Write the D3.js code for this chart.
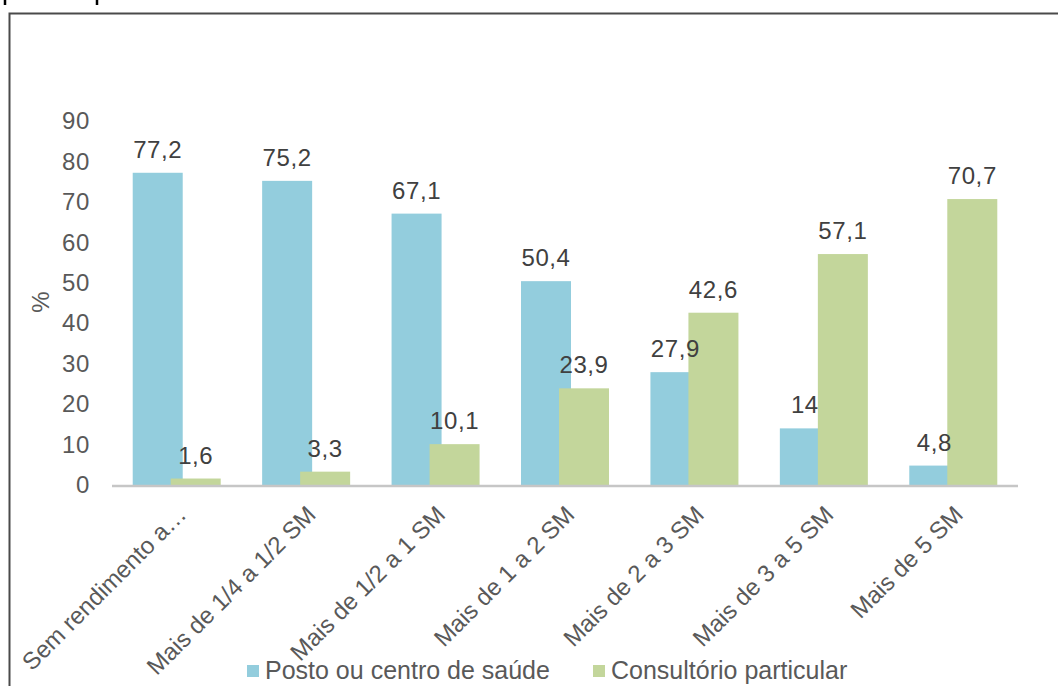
<!DOCTYPE html>
<html>
<head>
<meta charset="utf-8">
<script src="https://cdn.jsdelivr.net/npm/d3@7"></script>
<style>
  html, body { margin: 0; padding: 0; background: #fff; }
  svg { display: block; font-family: "Liberation Sans", Arial, sans-serif; }
</style>
</head>
<body>
<svg id="chart" width="1058" height="686"></svg>
<script>
// Income brackets (in minimum wages) and share of people by place of care
const categories = [
  "Sem rendimento a…",
  "Mais de 1/4 a 1/2 SM",
  "Mais de 1/2 a 1 SM",
  "Mais de 1 a 2 SM",
  "Mais de 2 a 3 SM",
  "Mais de 3 a 5 SM",
  "Mais de 5 SM"
];
const postoValues = [77.2, 75.2, 67.1, 50.4, 27.9, 14, 4.8];
const consultorioValues = [1.6, 3.3, 10.1, 23.9, 42.6, 57.1, 70.7];
const seriesNames = ["Posto ou centro de saúde", "Consultório particular"];
const yTicks = [0, 10, 20, 30, 40, 50, 60, 70, 80, 90];

const colors = ["#93CDDD", "#C3D69B"];
const fmt = v => String(v).replace(".", ",");

const svg = d3.select("#chart");

// Outer frame (left and top edges) plus small marks above it
svg.append("path")
  .attr("d", "M9.5,686 V13.5 H1058")
  .attr("fill", "none")
  .attr("stroke", "#4a4a4a")
  .attr("stroke-width", 2);
svg.selectAll("line.mark").data([5, 97]).join("line")
  .attr("class", "mark")
  .attr("x1", d => d).attr("x2", d => d)
  .attr("y1", 0).attr("y2", 5)
  .attr("stroke", "#000").attr("stroke-width", 2.5);

const x = d3.scaleBand().domain(categories).range([112, 1018]).paddingInner(0).paddingOuter(0);
const y = d3.scaleLinear().domain([0, 90]).range([485, 121]);

const numFont = 24, labelFont = 24, spacing = 0.6;

// Y axis labels
const yAxis = svg.append("g")
  .attr("transform", "translate(90,0)")
  .call(d3.axisLeft(y).tickValues(yTicks).tickSize(0).tickPadding(0));
yAxis.select(".domain").remove();
yAxis.selectAll("text")
  .attr("font-size", numFont)
  .attr("letter-spacing", spacing)
  .attr("font-family", "Liberation Sans, Arial, sans-serif")
  .attr("fill", "#595959");

// Y axis title
svg.append("text")
  .attr("transform", "translate(49,302) rotate(-90)")
  .attr("text-anchor", "middle")
  .attr("font-size", numFont)
  .attr("fill", "#595959")
  .text("%");

const blueOffset = -44, greenOffset = -6, barW = 50;
const cx = c => x(c) + x.bandwidth() / 2;

// Bars: blue first, green drawn over its left edge
svg.append("g").selectAll("rect").data(categories).join("rect")
  .attr("x", (c) => cx(c) + blueOffset)
  .attr("y", (c, i) => y(postoValues[i]))
  .attr("width", barW)
  .attr("height", (c, i) => y(0) - y(postoValues[i]))
  .attr("fill", colors[0]);
svg.append("g").selectAll("rect").data(categories).join("rect")
  .attr("x", (c) => cx(c) + greenOffset)
  .attr("y", (c, i) => y(consultorioValues[i]))
  .attr("width", barW)
  .attr("height", (c, i) => y(0) - y(consultorioValues[i]))
  .attr("fill", colors[1]);

// Baseline
svg.append("line")
  .attr("x1", 112).attr("x2", 1018)
  .attr("y1", y(0) + 1).attr("y2", y(0) + 1)
  .attr("stroke", "#c6c6c6").attr("stroke-width", 2.5);

// Value labels
svg.append("g").selectAll("text").data(categories).join("text")
  .attr("x", c => cx(c) + blueOffset + barW / 2)
  .attr("y", (c, i) => y(postoValues[i]) - 15)
  .attr("text-anchor", "middle")
  .attr("font-size", numFont)
  .attr("letter-spacing", spacing)
  .attr("fill", "#404040")
  .text((c, i) => fmt(postoValues[i]));
svg.append("g").selectAll("text").data(categories).join("text")
  .attr("x", c => cx(c) + greenOffset + barW / 2)
  .attr("y", (c, i) => y(consultorioValues[i]) - 15)
  .attr("text-anchor", "middle")
  .attr("font-size", numFont)
  .attr("letter-spacing", spacing)
  .attr("fill", "#404040")
  .text((c, i) => fmt(consultorioValues[i]));

// Category labels, rotated
svg.append("g").selectAll("text").data(categories).join("text")
  .attr("transform", c => `translate(${cx(c) + 11},${y(0) + 31}) rotate(-45)`)
  .attr("text-anchor", "end")
  .attr("font-size", labelFont)
  .attr("fill", "#595959")
  .text(c => c);

// Legend
const legend = svg.append("g");
const legendItems = [{ x: 247 }, { x: 593 }];
legendItems.forEach((it, i) => {
  legend.append("rect")
    .attr("x", it.x).attr("y", 665)
    .attr("width", 12).attr("height", 12)
    .attr("fill", colors[i]);
  legend.append("text")
    .attr("x", it.x + 18).attr("y", 679)
    .attr("font-size", 25)
    .attr("fill", "#595959")
    .text(seriesNames[i]);
});
</script>
</body>
</html>
